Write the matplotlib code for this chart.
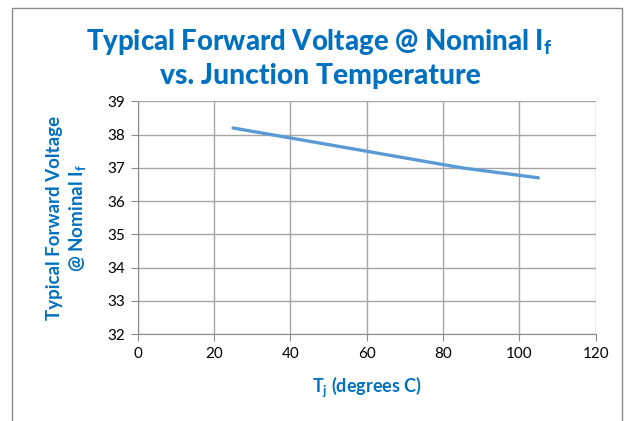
import matplotlib
matplotlib.use("Agg")
import matplotlib.pyplot as plt
from matplotlib.patches import Rectangle

plt.rcParams['font.family'] = ['Lato', 'DejaVu Sans']
plt.rcParams['mathtext.default'] = 'regular'

tj = [25, 85, 105]
vf = [38.2, 37.0, 36.7]
x_ticks = [0, 20, 40, 60, 80, 100, 120]
y_ticks = [32, 33, 34, 35, 36, 37, 38, 39]

title_color = '#0070C0'
line_color = '#5B9BD5'

fig = plt.figure(figsize=(6.29, 4.21), dpi=100)
fig.patch.set_facecolor('white')
fig.patches.append(Rectangle((12/629, -0.05), (622-12)/629, 1 - 8/421 + 0.05,
                             transform=fig.transFigure, fill=False,
                             edgecolor='#8C8C8C', linewidth=1.0))

ax = fig.add_axes([137.6/629, 1-334/421, 458/629, (334-101.4)/421])
ax.plot(tj, vf, color=line_color, linewidth=2.4, solid_capstyle='round')
ax.set_xlim(0, 120)
ax.set_ylim(32, 39)
ax.set_xticks(x_ticks)
ax.set_yticks(y_ticks)
ax.grid(True, color='#A6A6A6', linewidth=1.0)
ax.set_axisbelow(True)
for s in ['top', 'right']:
    ax.spines[s].set_visible(False)
for s in ['left', 'bottom']:
    ax.spines[s].set_color('#8C8C8C')
ax.tick_params(axis='both', direction='out', length=5, color='#8C8C8C',
               labelsize=11, labelcolor='black', pad=4)

fig.text(0.507, 1-42/421, 'Typical Forward Voltage @ Nominal I$_f$',
         ha='center', va='center', color=title_color, fontsize=19.8, fontweight='black')
fig.text(0.509, 1-76/421, 'vs. Junction Temperature',
         ha='center', va='center', color=title_color, fontsize=20.3, fontweight='black')

ax.set_xlabel('T$_j$ (degrees C)', color=title_color, fontsize=13, fontweight='bold', labelpad=10)
ax.set_ylabel('Typical Forward Voltage\n@ Nominal I$_f$', color=title_color, fontsize=13.5,
              fontweight='bold', labelpad=14, linespacing=1.25)

fig.savefig('out.png', dpi=100)
